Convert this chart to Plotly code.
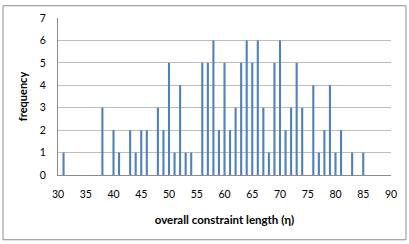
import plotly.graph_objects as go

lengths = [31, 38, 40, 41, 43, 44, 45, 46, 48, 49, 50, 51, 52, 53, 54,
           56, 57, 58, 59, 60, 61, 62, 63, 64, 65, 66, 67, 68, 69, 70,
           71, 72, 73, 74, 76, 77, 78, 79, 80, 81, 83, 85]
frequency = [1, 3, 2, 1, 2, 1, 2, 2, 3, 2, 5, 1, 4, 1, 1,
             5, 5, 6, 2, 5, 2, 3, 5, 6, 5, 6, 3, 1, 5, 6,
             2, 3, 5, 3, 4, 1, 2, 4, 1, 2, 1, 1]
x_ticks = list(range(30, 91, 5))
y_ticks = list(range(0, 8))

W, H = 409, 244
L, R, T, B = 58, 18, 15, 69
pw, ph = W - L - R, H - T - B

def px_x(p):
    return (p - L) / pw

def px_y(p):
    return (H - B - p) / ph

font = "Lato, Carlito, Calibri, sans-serif"

fig = go.Figure(go.Bar(
    x=lengths, y=frequency, width=0.38,
    marker=dict(color="#4F81BD", line=dict(width=0)),
))

fig.update_layout(
    width=W, height=H,
    margin=dict(l=L, r=R, t=T, b=B),
    paper_bgcolor="white", plot_bgcolor="white",
    showlegend=False,
    font=dict(family=font, size=10.5, color="#000000"),
    xaxis=dict(
        range=[30, 90], tickmode="array", tickvals=x_ticks,
        showgrid=False, zeroline=False,
        showline=True, linecolor="#8C8C8C", linewidth=1,
        ticks="outside", ticklen=9, tickcolor="rgba(0,0,0,0)",
        tickfont=dict(size=10.5),
        title=dict(text="<b>overall constraint length (η)</b>",
                   font=dict(size=11.5), standoff=17),
    ),
    yaxis=dict(
        range=[0, 7], tickmode="array", tickvals=y_ticks,
        showgrid=True, gridcolor="#BDBDBD", gridwidth=1,
        zeroline=False,
        showline=True, linecolor="#8C8C8C", linewidth=1,
        ticks="outside", ticklen=9, tickcolor="rgba(0,0,0,0)",
        tickfont=dict(size=10.5),
        title=dict(text="<b>frequency</b>", font=dict(size=11), standoff=9),
    ),
    shapes=[dict(
        type="rect", xref="paper", yref="paper",
        x0=px_x(3), x1=px_x(406), y0=px_y(241), y1=px_y(2.5),
        line=dict(color="#8C8C8C", width=1), fillcolor="rgba(0,0,0,0)",
        layer="below",
    )],
)

fig.write_html(
    "out.html",
    config={"displayModeBar": False},
    post_script="document.body.style.margin='0';document.body.style.padding='0';",
)
